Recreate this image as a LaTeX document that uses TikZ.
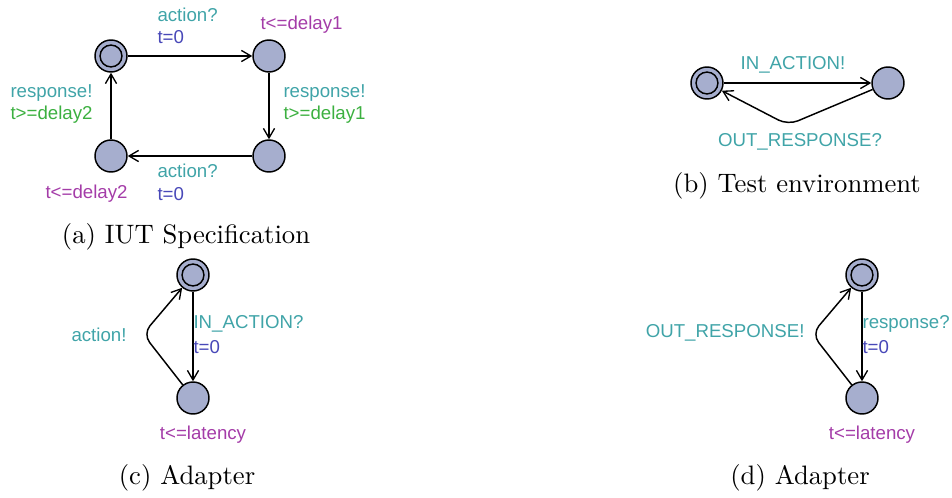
\documentclass[tikz,border=0pt]{standalone}
\usepackage{fontspec}
\usepackage{tikz}
\usetikzlibrary{arrows.meta}
\newfontfamily\labelfont{Liberation Sans}
\definecolor{locfill}{HTML}{A6AECE}
\definecolor{synccol}{HTML}{40A4A8}
\definecolor{updcol}{HTML}{4848B8}
\definecolor{invcol}{HTML}{A43CA8}
\definecolor{grdcol}{HTML}{3CB040}
\tikzset{
  >={Straight Barb[length=3.6pt,width=4.2pt,line width=.5pt]},
  loc/.style={circle,draw=black,fill=locfill,line width=.55pt,minimum size=12pt,inner sep=0pt},
  initloc/.style={loc,path picture={\draw[line width=.55pt] (path picture bounding box.center) circle (4.1pt);}},
  edge/.style={->,draw=black,line width=.55pt,rounded corners=4pt},
  lbl/.style={font=\labelfont\fontsize{7}{8}\selectfont,inner sep=0pt},
  sync/.style={lbl,text=synccol},
  upd/.style={lbl,text=updcol},
  inv/.style={lbl,text=invcol},
  grd/.style={lbl,text=grdcol},
  capt/.style={font=\fontsize{10}{12}\selectfont,inner sep=0pt}
}
\begin{document}
\begin{tikzpicture}[x=0.375pt,y=-0.375pt]
  \useasboundingbox (0,0) rectangle (952,498);

  % (a) IUT specification
  \node[initloc] (a0) at (111,56) {};
  \node[loc] (a1) at (269,56) {};
  \node[loc] (a2) at (269,156) {};
  \node[loc] (a3) at (111,156) {};
  \draw[edge] (a0) -- (a1);
  \draw[edge] (a1) -- (a2);
  \draw[edge] (a2) -- (a3);
  \draw[edge] (a3) -- (a0);
  \node[sync,anchor=west] (a01s) at (157,15) {action?};
  \node[upd,anchor=west] (a01u) at (157,37) {t=0};
  \node[inv,anchor=west] (a1i) at (260,25) {t<=delay1};
  \node[sync,anchor=west] (a12s) at (283,93) {response!};
  \node[grd,anchor=west] (a12g) at (283,115) {t>=delay1};
  \node[sync,anchor=west] (a23s) at (157,171) {action?};
  \node[upd,anchor=west] (a23u) at (157,194) {t=0};
  \node[inv,anchor=west] (a3i) at (45,194) {t<=delay2};
  \node[sync,anchor=west] (a30s) at (10,93) {response!};
  \node[grd,anchor=west] (a30g) at (10,115) {t>=delay2};
  \node[capt] (capa) at (186,237) {(a) IUT Specification};

  % (b) test environment
  \node[initloc] (b0) at (707,83) {};
  \node[loc] (b1) at (888,83) {};
  \coordinate (bnail) at (788,125);
  \draw[edge] (b0) -- (b1);
  \draw[edge] (b1) -- (bnail) -- (b0);
  \node[sync] (b01s) at (793,65) {IN\_ACTION!};
  \node[sync] (b10s) at (800,142) {OUT\_RESPONSE?};
  \node[capt] (capb) at (797,186) {(b) Test environment};

  % (c) adapter, input side
  \node[initloc] (c0) at (193,275) {};
  \node[loc] (c1) at (193,398) {};
  \coordinate (cnail) at (143,334);
  \draw[edge] (c0) -- (c1);
  \draw[edge] (c1) -- (cnail) -- (c0);
  \node[sync,anchor=west] (c01s) at (193,324) {IN\_ACTION?};
  \node[upd,anchor=west] (c01u) at (193,347) {t=0};
  \node[sync] (c10s) at (99,335) {action!};
  \node[inv] (c1i) at (203,435) {t<=latency};
  \node[capt] (capc) at (187,478) {(c) Adapter};

  % (d) adapter, output side
  \node[initloc] (d0) at (862,275) {};
  \node[loc] (d1) at (862,398) {};
  \coordinate (dnail) at (812,334);
  \draw[edge] (d0) -- (d1);
  \draw[edge] (d1) -- (dnail) -- (d0);
  \node[sync,anchor=west] (d01s) at (862,324) {response?};
  \node[upd,anchor=west] (d01u) at (862,347) {t=0};
  \node[sync,anchor=east] (d10s) at (805,333) {OUT\_RESPONSE!};
  \node[inv] (d1i) at (872,435) {t<=latency};
  \node[capt] (capd) at (800,478) {(d) Adapter};
\end{tikzpicture}
\end{document}
